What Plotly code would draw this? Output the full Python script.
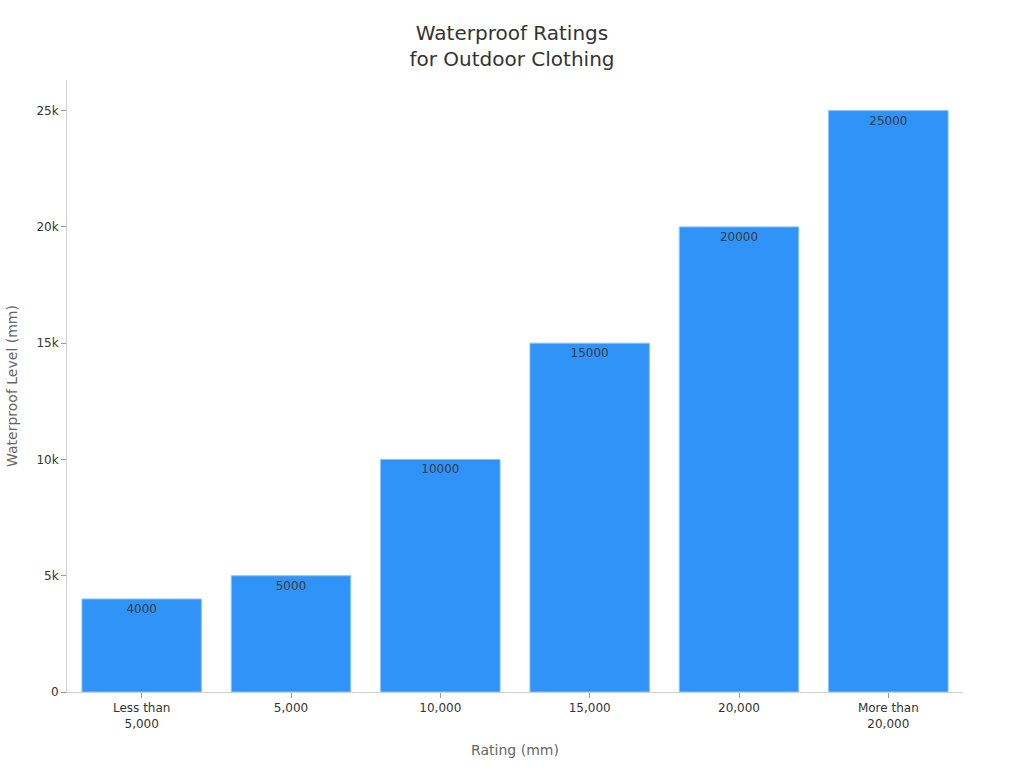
import plotly.graph_objects as go

categories = ["Less than<br>5,000", "5,000", "10,000", "15,000", "20,000", "More than<br>20,000"]
values = [4000, 5000, 10000, 15000, 20000, 25000]
labels = [str(v) for v in values]

fig = go.Figure(go.Bar(
    x=categories, y=values, text=labels,
    textposition="inside", insidetextanchor="end",
    textfont=dict(color="#3a3a3a", size=12),
    marker=dict(color="#3093F8", line=dict(color="#8cc2fa", width=1)),
))

fig.update_layout(
    width=1024, height=768,
    font=dict(family="DejaVu Sans", color="#333333", size=12),
    title=dict(text="Waterproof Ratings<br>for Outdoor Clothing", x=0.5, xanchor="center",
               y=0.948, yanchor="top", font=dict(size=20, color="#333333")),
    margin=dict(l=67, r=61, t=80, b=76),
    plot_bgcolor="white", paper_bgcolor="white",
    bargap=0.2,
    showlegend=False,
)
fig.update_xaxes(title=dict(text="Rating (mm)", font=dict(size=14, color="#666666")),
                 showline=True, linecolor="#d0d0d0", ticks="outside", tickcolor="#999999",
                 ticklen=5, showgrid=False)
fig.update_yaxes(title=dict(text="Waterproof Level (mm)", font=dict(size=14, color="#666666")),
                 showline=True, linecolor="#d0d0d0", ticks="outside", tickcolor="#999999",
                 ticklen=5, showgrid=False, zeroline=False, tickformat="~s")

fig.write_html("out.html")
